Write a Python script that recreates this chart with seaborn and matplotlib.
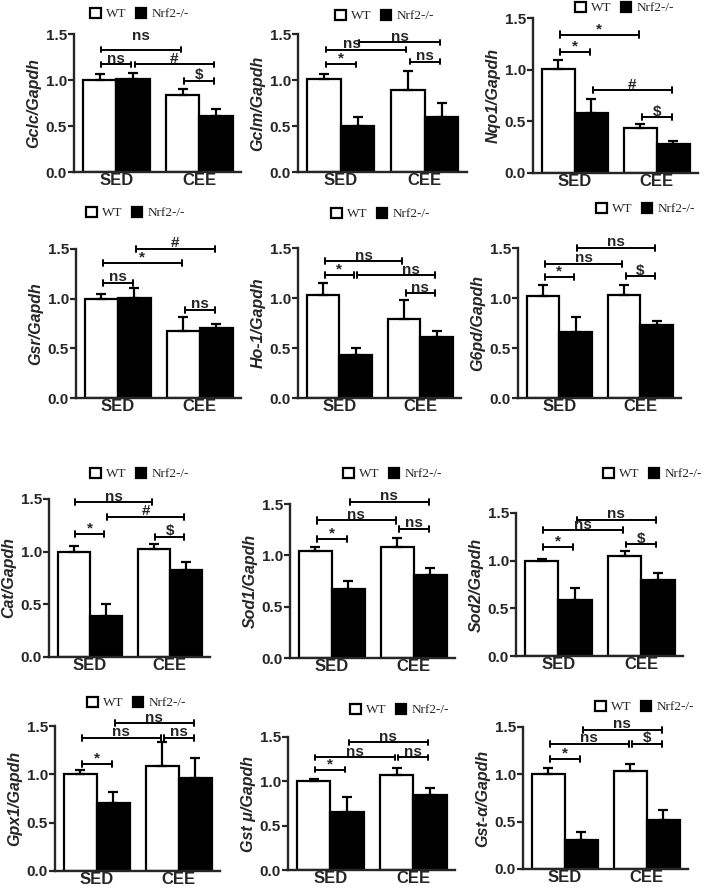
import numpy as np
import pandas as pd
import matplotlib
matplotlib.use("Agg")
import matplotlib.pyplot as plt
import seaborn as sns
from matplotlib.patches import Patch

sns.set_style("ticks")
plt.rcParams["font.family"] = ["Liberation Sans", "DejaVu Sans"]

#Groups and genotypes
groups = ["SED", "CEE"]
genotypes = ["WT", "Nrf2-/-"]

genes = ["Gclc", "Gclm", "Nqo1", "Gsr", "Ho-1", "G6pd",
         "Cat", "Sod1", "Sod2", "Gpx1", "Gst \u03bc", "Gst-\u03b1"]

#Mean expression (relative to Gapdh), one value per gene
wt_sed = [1.00, 1.01, 1.01, 1.00, 1.03, 1.02, 1.00, 1.04, 1.00, 1.00, 1.00, 1.00]
ko_sed = [1.01, 0.50, 0.58, 1.01, 0.43, 0.66, 0.39, 0.67, 0.585, 0.70, 0.65, 0.31]
wt_cee = [0.84, 0.89, 0.435, 0.67, 0.79, 1.03, 1.03, 1.08, 1.045, 1.09, 1.075, 1.04]
ko_cee = [0.61, 0.60, 0.28, 0.70, 0.61, 0.73, 0.83, 0.81, 0.80, 0.965, 0.85, 0.515]

#SEM
wt_sed_err = [0.06, 0.05, 0.08, 0.05, 0.12, 0.11, 0.05, 0.04, 0.02, 0.04, 0.03, 0.07]
ko_sed_err = [0.07, 0.10, 0.14, 0.10, 0.07, 0.15, 0.11, 0.08, 0.13, 0.12, 0.17, 0.08]
wt_cee_err = [0.06, 0.21, 0.04, 0.15, 0.19, 0.10, 0.04, 0.09, 0.06, 0.24, 0.08, 0.07]
ko_cee_err = [0.07, 0.15, 0.03, 0.05, 0.06, 0.04, 0.07, 0.07, 0.07, 0.20, 0.08, 0.11]

#Significance brackets: (bar a, bar b, height, label); bars 0=WT SED 1=KO SED 2=WT CEE 3=KO CEE
brackets = [
    [(0, 2, 1.33, "ns"), (0, 1, 1.17, "ns"), (1, 3, 1.17, "#"), (2, 3, 0.99, "$")],
    [(0, 1, 1.17, "*"), (0, 2, 1.33, "ns"), (1, 3, 1.41, "ns"), (2, 3, 1.20, "ns")],
    [(0, 2, 1.34, "*"), (0, 1, 1.17, "*"), (1, 3, 0.80, "#"), (2, 3, 0.54, "$")],
    [(1, 3, 1.50, "#"), (0, 2, 1.36, "*"), (0, 1, 1.16, "ns"), (2, 3, 0.89, "ns")],
    [(0, 2, 1.37, "ns"), (0, 1, 1.23, "*"), (1, 3, 1.23, "ns"), (2, 3, 1.05, "ns")],
    [(1, 3, 1.50, "ns"), (0, 2, 1.34, "ns"), (0, 1, 1.21, "*"), (2, 3, 1.22, "$")],
    [(0, 2, 1.47, "ns"), (1, 3, 1.33, "#"), (0, 1, 1.17, "*"), (2, 3, 1.14, "$")],
    [(1, 3, 1.52, "ns"), (0, 2, 1.34, "ns"), (2, 3, 1.26, "ns"), (0, 1, 1.16, "*")],
    [(1, 3, 1.43, "ns"), (0, 2, 1.32, "ns"), (0, 1, 1.14, "*"), (2, 3, 1.17, "$")],
    [(1, 3, 1.53, "ns"), (0, 2, 1.38, "ns"), (2, 3, 1.38, "ns"), (0, 1, 1.11, "*")],
    [(1, 3, 1.44, "ns"), (0, 2, 1.27, "ns"), (2, 3, 1.27, "ns"), (0, 1, 1.13, "*")],
    [(1, 3, 1.47, "ns"), (0, 2, 1.32, "ns"), (2, 3, 1.32, "$"), (0, 1, 1.16, "*")],
]
#a few labels sit off the bracket centre: (panel, bracket) -> (dx, dy)
label_shift = {(0, 0): (0.0, 0.09), (1, 1): (-0.17, 0.0), (4, 2): (0.18, 0.0)}

#Panel placement in pixels: y-axis x, y of 1.5, y of 0.0, pixels per x unit
W, H = 708, 890
panel_px = [(74, 34, 172, 83), (298, 34, 172, 84), (533, 18, 173, 82),
            (76, 249, 398, 82), (298, 248, 398, 81), (518, 248, 398, 81),
            (49, 499, 657, 80), (290, 504, 658, 82), (516, 513, 656, 83),
            (55, 726, 871, 82), (288, 737, 870, 83), (523, 727, 869, 82)]
#Legend anchor (left x, centre y) in pixels
legend_px = [(90, 14), (335, 16), (575, 8), (86, 213), (331, 214), (596, 209),
             (90, 474), (343, 474), (603, 474), (87, 703), (350, 710), (595, 707)]

fig = plt.figure(figsize=(W / 100, H / 100), dpi=100)
pal = {"WT": "white", "Nrf2-/-": "black"}

for k, gene in enumerate(genes):
    x0, ytop, ybot, unit = panel_px[k]
    ax = fig.add_axes([x0 / W, 1 - ybot / H, 2.01 * unit / W, (ybot - ytop) / H])

    df = pd.DataFrame({
        "group": ["SED", "SED", "CEE", "CEE"],
        "genotype": ["WT", "Nrf2-/-", "WT", "Nrf2-/-"],
        "value": [wt_sed[k], ko_sed[k], wt_cee[k], ko_cee[k]],
    })
    err = np.array([wt_sed_err[k], ko_sed_err[k], wt_cee_err[k], ko_cee_err[k]])

    sns.barplot(data=df, x="group", y="value", hue="genotype", order=groups,
                hue_order=genotypes, palette=pal, edgecolor="black", linewidth=1.6,
                errorbar=None, width=0.8, legend=False, ax=ax)

    bars = sorted(ax.patches, key=lambda p: p.get_x())
    xc = np.array([p.get_x() + p.get_width() / 2 for p in bars])
    hts = np.array([p.get_height() for p in bars])
    ax.errorbar(xc, hts, yerr=[np.zeros(4), err], fmt="none", ecolor="black",
                elinewidth=1.6, capsize=3.5, capthick=1.6, zorder=1)

    for n, (a, b, yb, lab) in enumerate(brackets[k]):
        xa, xb = xc[a] + 0.02, xc[b] - 0.02
        dx, dy = label_shift.get((k, n), (0.0, 0.0))
        ax.plot([xa, xb], [yb, yb], color="black", lw=1.4, clip_on=False)
        ax.plot([xa, xa], [yb - 0.03, yb + 0.03], color="black", lw=1.4, clip_on=False)
        ax.plot([xb, xb], [yb - 0.03, yb + 0.03], color="black", lw=1.4, clip_on=False)
        ax.text((xa + xb) / 2 + dx, yb - 0.015 + dy, lab, ha="center", va="bottom",
                fontsize=11, fontweight="bold", clip_on=False)

    ax.set_xlim(-0.51, 1.5)
    ax.set_ylim(0, 1.5)
    ax.set_yticks([0, 0.5, 1.0, 1.5])
    ax.set_yticklabels(["0.0", "0.5", "1.0", "1.5"], fontsize=11, fontweight="bold")
    ax.set_xticks([0, 1])
    ax.set_xticklabels(groups, fontsize=12, fontweight="bold")
    ax.set_xlabel("")
    ax.set_ylabel(gene + "/Gapdh", fontsize=11.5, fontweight="bold", style="italic",
                  labelpad=3)
    sns.despine(ax=ax)
    for s in ["left", "bottom"]:
        ax.spines[s].set_linewidth(1.7)
    ax.tick_params(axis="y", direction="out", length=4, width=1.6, pad=1)
    ax.tick_params(axis="x", length=0, pad=1)

    handles = [Patch(facecolor="white", edgecolor="black", linewidth=1.6),
               Patch(facecolor="black", edgecolor="black", linewidth=1.6)]
    lx, ly = legend_px[k]
    ax.legend(handles, genotypes, loc="center left", ncol=2, frameon=False,
              bbox_to_anchor=(lx / W, 1 - ly / H), bbox_transform=fig.transFigure,
              borderpad=0, borderaxespad=0, handlelength=0.8, handleheight=0.85,
              handletextpad=0.4, columnspacing=0.7,
              prop={"family": "Liberation Serif", "size": 9.5})

fig.savefig("out.png", dpi=100)
